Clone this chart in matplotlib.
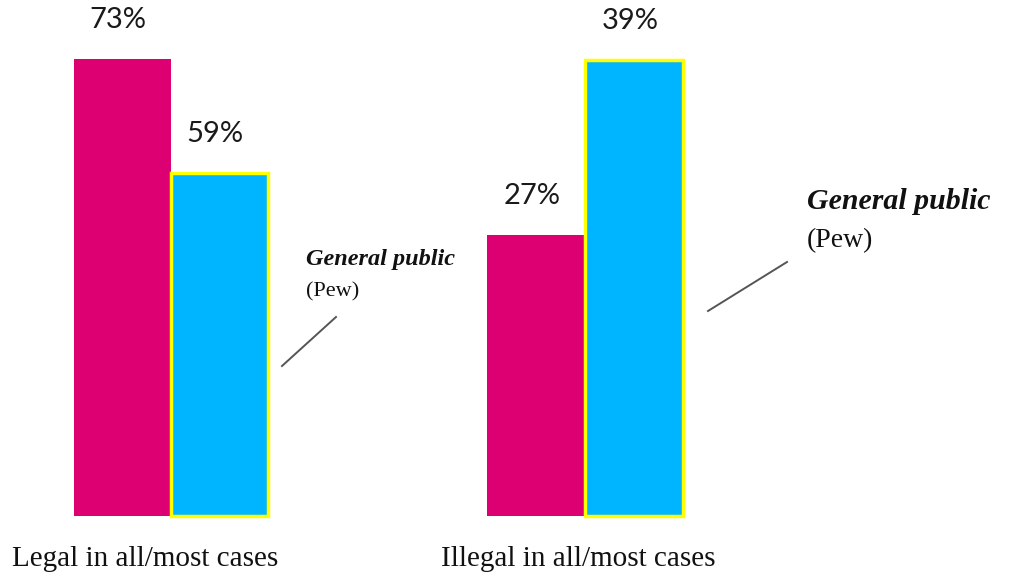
import matplotlib
matplotlib.use('Agg')
import matplotlib.pyplot as plt
from matplotlib.lines import Line2D

# ── data ─────────────────────────────────────────────────────────────────────
groups     = ['Legal in all/most cases', 'Illegal in all/most cases']
series     = ['Respondents', 'General public (Pew)']
legal      = [73, 59]
illegal    = [27, 39]
note_title = 'General public'
note_src   = '(Pew)'

C_MAG  = '#DC0073'
C_BLUE = '#00B5FF'
C_EDGE = '#FFFF00'
W, H   = 1019, 584

fig = plt.figure(figsize=(W / 100, H / 100), dpi=100)
fig.patch.set_facecolor('white')


def px(x, y):
    """pixel coords (from top-left) -> figure fraction"""
    return x / W, 1 - y / H


def add_group(x0, x1, y_top, ymin, vals, label, lab_x):
    l, b = px(x0, 516)
    r, t = px(x1, y_top)
    ax = fig.add_axes([l, b, r - l, t - b])
    # axis does not start at zero: bars grow from the bottom of the axis
    bars = ax.bar([0, 1], [v - ymin for v in vals], width=1, align='edge',
                  bottom=ymin, color=[C_MAG, C_BLUE], clip_on=False)
    bars[1].set_edgecolor(C_EDGE)
    bars[1].set_linewidth(2.5)
    ax.set_xlim(0, 2)
    ax.set_ylim(ymin, max(vals))
    ax.axis('off')
    for bar, v in zip(bars, vals):
        ax.annotate(f'{v}%', (bar.get_x() + bar.get_width() / 2, v),
                    xytext=(-3, 28), textcoords='offset points',
                    ha='center', va='center', fontsize=21,
                    family='Lato', color='#1a1a1a')
    fig.text(*px(lab_x, 559), label, ha='center', va='center',
             fontsize=21, family='Liberation Serif', color='#111111')
    return ax


ax1 = add_group(74, 268, 59, 16.9, legal, groups[0], 145)
ax2 = add_group(487, 683, 60, 7.7, illegal, groups[1], 578)

# ── "General public (Pew)" callouts ──────────────────────────────────────────
fig.text(*px(306, 260), note_title, ha='left', va='center', fontsize=17.5,
         family='Liberation Serif', style='italic', weight='bold', color='#111111')
fig.text(*px(306, 292), note_src, ha='left', va='center', fontsize=16,
         family='Liberation Serif', color='#111111')
fig.add_artist(Line2D(*zip(px(282, 366), px(336, 317)), color='#555555', lw=1.4))

fig.text(*px(807, 202), note_title, ha='left', va='center', fontsize=21.5,
         family='Liberation Serif', style='italic', weight='bold', color='#111111')
fig.text(*px(807, 241), note_src, ha='left', va='center', fontsize=20,
         family='Liberation Serif', color='#111111')
fig.add_artist(Line2D(*zip(px(708, 311), px(787, 262)), color='#555555', lw=1.4))

plt.savefig('out.png', dpi=100, facecolor='white')
plt.close()
